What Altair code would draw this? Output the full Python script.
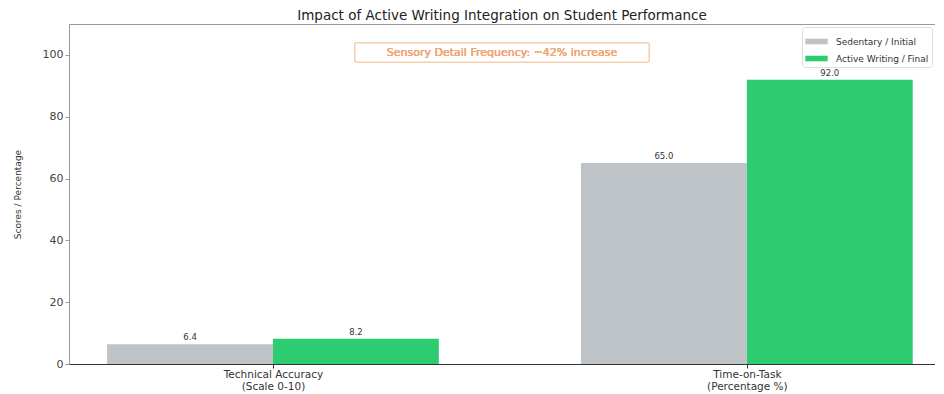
import altair as alt
import pandas as pd

categories = ["Technical Accuracy\n(Scale 0-10)", "Time-on-Task\n(Percentage %)"]
series = ["Sedentary / Initial", "Active Writing / Final"]
initial_values = [6.4, 65.0]
final_values = [8.2, 92.0]
colors = ["#bdc3c7", "#2ecc71"]
title = "Impact of Active Writing Integration on Student Performance"
y_title = "Scores / Percentage"
annotation = "Sensory Detail Frequency: ~42% increase"

rows = []
for i, cat in enumerate(categories):
    for s, vals in enumerate([initial_values, final_values]):
        rows.append({"category": cat, "idx": i, "series": series[s], "sidx": s, "value": vals[i]})
df = pd.DataFrame(rows)

FONT = "DejaVu Sans"
BAR_W = 0.35

label_expr = " : ".join(
    [f"datum.value == {i} ? {c.split(chr(10))!r}" for i, c in enumerate(categories)]
) + " : ''"

xscale = alt.Scale(domain=[-0.4304, 1.397], nice=False, zero=False)
yscale = alt.Scale(domain=[0, 110], nice=False)

base = alt.Chart(df).transform_calculate(
    x0=f"datum.idx + (datum.sidx - 1) * {BAR_W}",
    x1=f"datum.idx + datum.sidx * {BAR_W}",
    xc=f"datum.idx + (datum.sidx - 0.5) * {BAR_W}",
)

bars = base.mark_bar().encode(
    x=alt.X("x0:Q", scale=xscale, axis=alt.Axis(
        values=[0, 1], labelExpr=label_expr, title=None, grid=False,
        labelFont=FONT, labelFontSize=10.5, labelColor="#333", tickColor="#333",
        domainColor="#333", tickSize=4, labelPadding=1, labelLineHeight=12.5)),
    x2="x1:Q",
    y=alt.Y("value:Q", scale=yscale, axis=alt.Axis(
        values=[0, 20, 40, 60, 80, 100], title=y_title, grid=False,
        titleFont=FONT, titleFontSize=9, titleFontWeight="normal", titleColor="#333",
        labelFont=FONT, labelFontSize=11, labelColor="#444", tickColor="#999",
        domainColor="#999", tickSize=4, titlePadding=20)),
    y2=alt.datum(0),
    color=alt.Color("series:N", scale=alt.Scale(domain=series, range=colors),
                    legend=alt.Legend(title=None, orient="top-right", offset=3,
                                      fillColor="white", strokeColor="#ddd",
                                      padding=3, cornerRadius=3,
                                      labelFont=FONT, labelFontSize=9, labelColor="#333",
                                      symbolType="M-1,-0.25H1V0.25H-1Z", symbolSize=500,
                                      symbolStrokeWidth=0, rowPadding=0, labelOffset=8)),
)

labels = base.mark_text(dy=-7, font=FONT, fontSize=8.5, color="#333").encode(
    x=alt.X("xc:Q", scale=xscale),
    y=alt.Y("value:Q", scale=yscale),
    text=alt.Text("value:Q", format=".1f"),
)

box = alt.Chart(df).mark_rect(fill="white", stroke="#f5cba7", strokeWidth=1).encode(
    x=alt.value(286), x2=alt.value(580), y=alt.value(19), y2=alt.value(38)
)
note = alt.Chart(df).mark_text(font=FONT, fontSize=11, fontWeight="normal",
                               color="#f0a878").encode(
    x=alt.value(433), y=alt.value(28.5), text=alt.value(annotation)
)

chart = alt.layer(bars, labels, box, note).properties(
    width=866, height=340,
    title=alt.TitleParams(title, font=FONT, fontSize=13.5, fontWeight="normal",
                          color="#222", offset=2, anchor="middle"),
    autosize=alt.AutoSizeParams(type="none"),
    padding={"left": 61, "top": 16, "right": 0, "bottom": 28},
).configure_view(stroke="#999", strokeWidth=1)

chart.save("out.html", embed_options={"renderer": "svg", "actions": False})
